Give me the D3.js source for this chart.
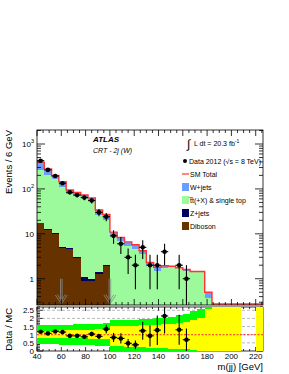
<!DOCTYPE html>
<html>
<head>
<meta charset="utf-8">
<script src="https://cdn.jsdelivr.net/npm/d3@7"></script>
<style>
  body { margin: 0; background: #fff; }
  text { font-family: "Liberation Sans", Arial, sans-serif; }
</style>
</head>
<body>
<div id="wrapper"></div>
<script>
// bins of 6 GeV, centres
const binCenters = [43, 49, 55, 61, 67, 73, 79, 85, 91, 97, 103, 109, 115, 121, 127, 133,
    139, 145, 151, 157, 163, 169, 175, 181, 187, 193, 199, 205, 211, 217, 223];

// stacked MC (events / bin)
const diboson = [17, 12, 9.8, 4.8, 4.6, 2.9, 0.87, 0.9, 1.3, 1.9, 0, 0, 0, 0, 0, 0,
    0, 0, 0, 0, 0, 0, 0, 0, 0, 0, 0, 0, 0, 0, 0];
const zjets = [0.8, 0.7, 0.6, 0.3, 0.25, 0.15, 0.22, 0.1, 0.1, 0.08, 0, 0, 0, 0, 0, 0,
    0, 0, 0, 0, 0, 0, 0, 0, 0, 0, 0, 0, 0, 0, 0];
const ttbar = [247, 191, 154, 107, 73, 67, 64, 56, 24.6, 18, 9.4, 7, 5.4, 4.5, 3.5, 2.0,
    1.45, 1.7, 1.8, 1.7, 1.52, 1.4, 1.4, 0.38, 0, 0, 0, 0, 0, 0, 0];
const wjets = [130, 76, 34, 33, 17, 13, 8, 6, 8, 7, 1.5, 1.3, 1.2, 1.2, 0.7, 0.3,
    0.35, 0.25, 0.1, 0.05, 0.08, 0.05, 0.05, 0.12, 0, 0, 0, 0, 0, 0, 0];

// data
const dataCounts = [425, 265, 194, 134, 84, 73, 64, 55, 30, 24, 9, 6, 3, 2, 5, 2,
    2, 4, 0, 2, 1, 0, 0, 0, 0, 0, 0, 0, 0, 0, 0];

// ratio panel
const ratioValues = [1.18, 1.08, 1.2, 1.16, 0.93, 0.93, 0.87, 1.04, 0.9, 1.34, 0.83, 0.77, 0.47, 0.38, 1.24, 0.93,
    1.28, 2.15, null, 1.3, 0.69, null, null, null, null, null, null, null, null, null, null];
const yellowLo = [0.8, 0.8, 0.8, 0.8, 0.8, 0.78, 0.78, 0.76, 0.74, 0.72, 0.3, 0.28, 0.26, 0.24, 0.22, 0.2,
    0.18, 0.16, 0.14, 0.12, 0.1, 0.05, 0.03, 0, 0, 0, 0, 0, null, null, 0];
const yellowHi = [1.25, 1.25, 1.25, 1.26, 1.27, 1.28, 1.29, 1.3, 1.32, 1.34, 1.52, 1.54, 1.55, 1.56, 1.58, 1.6,
    1.62, 1.64, 1.66, 1.7, 1.75, 1.9, 2.0, 2.56, 3, 3, 3, 3, null, null, 3];
const greenLo = [0.4, 0.4, 0.4, 0.38, 0.38, 0.36, 0.35, 0.34, 0.32, 0.3, 0, 0, 0, 0, 0, 0,
    0, 0, 0, 0, 0, 0, 0, 0, 0, 0, 0, 0, null, null, 0];
const greenHi = [1.6, 1.6, 1.6, 1.62, 1.62, 1.64, 1.65, 1.66, 1.68, 1.7, 1.9, 1.9, 1.92, 1.92, 1.95, 1.95,
    2.0, 2.05, 2.1, 2.2, 2.25, 2.45, 2.55, 3, 3, 3, 3, 3, null, null, 3];

const cutValues = [60, 100];
const xTickValues = [40, 60, 80, 100, 120, 140, 160, 180, 200, 220];
const yTickValues = [1, 10, 100, 1000];
const yTickExp = ["", "", "2", "3"];
const ratioTickValues = [0, 0.5, 1, 1.5, 2, 2.5];

const colors = {
    wjets: "#6b9cff",
    ttbar: "#9cf99c",
    zjets: "#00005e",
    diboson: "#663300",
    total: "#ff3333",
};

let dimensions = {
    width: 289,
    height: 374,
    left: 37,
    right: 263,
    mainTop: 130,
    mainBottom: 305,
    ratioTop: 307,
    ratioBottom: 351,
};

const svg = d3.select("#wrapper").append("svg")
    .attr("width", dimensions.width)
    .attr("height", dimensions.height);

const xScale = d3.scaleLinear().domain([40, 226]).range([dimensions.left, dimensions.right]);
const yMin = 0.26, yMax = 2050;
const yScale = d3.scaleLog().domain([yMin, yMax]).range([dimensions.mainBottom, dimensions.mainTop]);
const rScale = d3.scaleLinear().domain([0, 2.7]).range([dimensions.ratioBottom, dimensions.ratioTop]);
const clampY = v => Math.min(Math.max(v, yMin), yMax);
const clampR = v => Math.min(Math.max(v, 0), 2.7);

// clip paths
const defs = svg.append("defs");
defs.append("clipPath").attr("id", "clip-main").append("rect")
    .attr("x", dimensions.left).attr("y", dimensions.mainTop)
    .attr("width", dimensions.right - dimensions.left)
    .attr("height", dimensions.mainBottom - dimensions.mainTop);
defs.append("clipPath").attr("id", "clip-ratio").append("rect")
    .attr("x", dimensions.left).attr("y", dimensions.ratioTop)
    .attr("width", dimensions.right - dimensions.left)
    .attr("height", dimensions.ratioBottom - dimensions.ratioTop);

// ---------- main panel ----------
const table = binCenters.map((c, i) => ({
    c, diboson: diboson[i], zjets: zjets[i], ttbar: ttbar[i], wjets: wjets[i],
}));
const keys = ["diboson", "zjets", "ttbar", "wjets"];
const stacked = d3.stack().keys(keys)(table);

const main = svg.append("g").attr("clip-path", "url(#clip-main)");

stacked.forEach(layer => {
    main.append("g")
        .attr("fill", colors[layer.key])
        .attr("shape-rendering", "crispEdges")
        .selectAll("rect")
        .data(layer.filter(d => d[1] - d[0] > 0))
        .join("rect")
        .attr("x", d => xScale(d.data.c - 3))
        .attr("width", d => xScale(d.data.c + 3) - xScale(d.data.c - 3))
        .attr("y", d => yScale(clampY(d[1])))
        .attr("height", d => yScale(clampY(d[0])) - yScale(clampY(d[1])));
});

// SM total step line
const totals = table.map(d => d.diboson + d.zjets + d.ttbar + d.wjets);
const totalPoints = binCenters.map((c, i) => [c - 3, totals[i]]);
totalPoints.push([226, totals[totals.length - 1]]);
const stepLine = d3.line()
    .x(d => xScale(d[0]))
    .y(d => d[1] > yMin ? yScale(clampY(d[1])) : dimensions.mainBottom - 1)
    .curve(d3.curveStepAfter);
main.append("path")
    .datum(totalPoints)
    .attr("d", stepLine)
    .attr("fill", "none")
    .attr("stroke", colors.total)
    .attr("stroke-width", 1.4);

// cut arrows
cutValues.forEach(v => {
    const x = xScale(v);
    const yA = yScale(1.0), yB = dimensions.mainBottom - 1;
    const g = main.append("g").attr("fill", "none").attr("stroke", "#8a8a8a").attr("stroke-width", 0.8);
    g.append("path").attr("d", `M${x - 0.8},${yA} L${x - 0.8},${yB - 3} M${x + 0.8},${yA} L${x + 0.8},${yB - 3}`);
    g.append("path").attr("d", `M${x - 6},${yB - 9} L${x},${yB} L${x + 6},${yB - 9}`);
    g.append("path").attr("d", `M${x - 4},${yB - 9.5} L${x},${yB - 3.5} L${x + 4},${yB - 9.5}`);
});

// data points
const dataPts = binCenters.map((c, i) => ({ c, n: dataCounts[i] })).filter(d => d.n > 0);
const dataG = main.append("g");
dataG.selectAll("line.v")
    .data(dataPts)
    .join("line")
    .attr("x1", d => xScale(d.c)).attr("x2", d => xScale(d.c))
    .attr("y1", d => yScale(clampY(d.n + Math.sqrt(d.n))))
    .attr("y2", d => yScale(clampY(d.n - Math.sqrt(d.n))))
    .attr("stroke", "#000").attr("stroke-width", 1.1);
dataG.selectAll("line.h")
    .data(dataPts)
    .join("line")
    .attr("x1", d => xScale(d.c - 3)).attr("x2", d => xScale(d.c + 3))
    .attr("y1", d => yScale(d.n)).attr("y2", d => yScale(d.n))
    .attr("stroke", "#000").attr("stroke-width", 1.1);
dataG.selectAll("circle")
    .data(dataPts)
    .join("circle")
    .attr("cx", d => xScale(d.c)).attr("cy", d => yScale(d.n))
    .attr("r", 2.3).attr("fill", "#000");

// main frame + ticks
const axes = svg.append("g").attr("stroke", "#000").attr("stroke-width", 0.8);
axes.append("rect")
    .attr("x", dimensions.left).attr("y", dimensions.mainTop)
    .attr("width", dimensions.right - dimensions.left)
    .attr("height", dimensions.mainBottom - dimensions.mainTop)
    .attr("fill", "none");

function xTicks(yLine, dir, majLen, minLen) {
    for (let v = 40; v <= 226; v += 5) {
        const len = (v % 20 === 0) ? majLen : minLen;
        axes.append("line")
            .attr("x1", xScale(v)).attr("x2", xScale(v))
            .attr("y1", yLine).attr("y2", yLine + dir * len);
    }
}
xTicks(dimensions.mainTop, 1, 6, 3);
xTicks(dimensions.mainBottom, -1, 6, 3);

[0.1, 1, 10, 100, 1000].forEach(dec => {
    for (let k = 1; k <= 9; k++) {
        const v = dec * k;
        if (v < yMin || v > yMax) continue;
        const len = k === 1 ? 8 : 4;
        const y = yScale(v);
        axes.append("line").attr("x1", dimensions.left).attr("x2", dimensions.left + len).attr("y1", y).attr("y2", y);
        axes.append("line").attr("x1", dimensions.right).attr("x2", dimensions.right - len).attr("y1", y).attr("y2", y);
    }
});

const yLab = svg.append("g").attr("font-size", 8).attr("text-anchor", "end");
yTickValues.forEach((v, i) => {
    const t = yLab.append("text")
        .attr("x", dimensions.left - 3)
        .attr("y", yScale(v) + 3);
    if (yTickExp[i]) {
        t.append("tspan").text("10");
        t.append("tspan").attr("dy", -4).attr("font-size", 5.5).text(yTickExp[i]);
    } else {
        t.text(String(v));
    }
});

// ---------- ratio panel ----------
const ratio = svg.append("g").attr("clip-path", "url(#clip-ratio)");

// dashed grid
ratio.append("g")
    .selectAll("line")
    .data([0.5, 1, 1.5, 2, 2.5])
    .join("line")
    .attr("x1", dimensions.left).attr("x2", dimensions.right)
    .attr("y1", d => rScale(d)).attr("y2", d => rScale(d))
    .attr("stroke", "#999").attr("stroke-width", 0.7)
    .attr("stroke-dasharray", "3,2");

const bandRows = binCenters.map((c, i) => ({
    c, yl: yellowLo[i], yh: yellowHi[i], gl: greenLo[i], gh: greenHi[i],
})).filter(d => d.yl !== null);

ratio.append("g").attr("fill", "#00ff00").attr("shape-rendering", "crispEdges")
    .selectAll("rect").data(bandRows).join("rect")
    .attr("x", d => xScale(d.c - 3))
    .attr("width", d => xScale(d.c + 3) - xScale(d.c - 3))
    .attr("y", d => rScale(clampR(d.gh)))
    .attr("height", d => rScale(clampR(d.gl)) - rScale(clampR(d.gh)));
ratio.append("g").attr("fill", "#ffff00").attr("shape-rendering", "crispEdges")
    .selectAll("rect").data(bandRows).join("rect")
    .attr("x", d => xScale(d.c - 3))
    .attr("width", d => xScale(d.c + 3) - xScale(d.c - 3))
    .attr("y", d => rScale(clampR(d.yh)))
    .attr("height", d => rScale(clampR(d.yl)) - rScale(clampR(d.yh)));

// line at 1
ratio.append("line")
    .attr("x1", dimensions.left).attr("x2", dimensions.right)
    .attr("y1", rScale(1)).attr("y2", rScale(1))
    .attr("stroke", "#ff2a2a").attr("stroke-width", 1)
    .attr("stroke-dasharray", "2,1.5");

const ratioPts = binCenters.map((c, i) => ({ c, r: ratioValues[i], n: dataCounts[i] }))
    .filter(d => d.r !== null);
const rG = ratio.append("g");
rG.selectAll("line.v").data(ratioPts).join("line")
    .attr("x1", d => xScale(d.c)).attr("x2", d => xScale(d.c))
    .attr("y1", d => rScale(d.r + d.r / Math.sqrt(d.n)))
    .attr("y2", d => rScale(Math.max(d.r - d.r / Math.sqrt(d.n), -0.1)))
    .attr("stroke", "#000").attr("stroke-width", 1.1);
rG.selectAll("line.h").data(ratioPts).join("line")
    .attr("x1", d => xScale(d.c - 3)).attr("x2", d => xScale(d.c + 3))
    .attr("y1", d => rScale(d.r)).attr("y2", d => rScale(d.r))
    .attr("stroke", "#000").attr("stroke-width", 1.1);
rG.selectAll("circle").data(ratioPts).join("circle")
    .attr("cx", d => xScale(d.c)).attr("cy", d => rScale(d.r))
    .attr("r", 2.3).attr("fill", "#000");

axes.append("rect")
    .attr("x", dimensions.left).attr("y", dimensions.ratioTop)
    .attr("width", dimensions.right - dimensions.left)
    .attr("height", dimensions.ratioBottom - dimensions.ratioTop)
    .attr("fill", "none");
xTicks(dimensions.ratioTop, 1, 4, 2);
xTicks(dimensions.ratioBottom, -1, 4, 2);
for (let k = 0; k <= 27; k++) {
    const v = k / 10;
    const len = (k % 5 === 0) ? 6 : 3;
    const y = rScale(v);
    axes.append("line").attr("x1", dimensions.left).attr("x2", dimensions.left + len).attr("y1", y).attr("y2", y);
    axes.append("line").attr("x1", dimensions.right).attr("x2", dimensions.right - len).attr("y1", y).attr("y2", y);
}

const rLab = svg.append("g").attr("font-size", 8).attr("text-anchor", "end");
rLab.selectAll("text").data(ratioTickValues).join("text")
    .attr("x", dimensions.left - 3)
    .attr("y", d => rScale(d) + 3)
    .text(d => d);

const xLab = svg.append("g").attr("font-size", 8).attr("text-anchor", "middle");
xLab.selectAll("text").data(xTickValues).join("text")
    .attr("x", d => xScale(d))
    .attr("y", dimensions.ratioBottom + 7.5)
    .text(d => d);

// axis titles
svg.append("text")
    .attr("transform", `translate(12, ${dimensions.mainTop}) rotate(-90)`)
    .attr("text-anchor", "end")
    .attr("font-size", 9.5)
    .text("Events / 6 GeV");
svg.append("text")
    .attr("transform", `translate(12, ${dimensions.ratioTop + 1}) rotate(-90)`)
    .attr("text-anchor", "end")
    .attr("font-size", 9.5)
    .text("Data / MC");
svg.append("text")
    .attr("x", dimensions.right)
    .attr("y", 370)
    .attr("text-anchor", "end")
    .attr("font-size", 9.5)
    .text("m(jj) [GeV]");

// ATLAS label
svg.append("text")
    .attr("x", 93).attr("y", 142)
    .attr("font-size", 8).attr("font-weight", "bold").attr("font-style", "italic")
    .text("ATLAS");
svg.append("text")
    .attr("x", 93).attr("y", 153)
    .attr("font-size", 7).attr("font-style", "italic")
    .text("CRT - 2j (W)");

// legend
const legend = svg.append("g").attr("font-size", 7);
legend.append("text").attr("x", 187).attr("y", 148).attr("font-size", 12).text("\u222B");
const lumi = legend.append("text").attr("x", 194).attr("y", 146);
lumi.append("tspan").text("L dt = 20.3 fb");
lumi.append("tspan").attr("dy", -3).attr("font-size", 5).text("-1");

const legendStart = 161, legendStep = 13;
legend.append("circle").attr("cx", 185).attr("cy", legendStart).attr("r", 2).attr("fill", "#000");
legend.append("text").attr("x", 189).attr("y", legendStart + 2.5).text("Data 2012 (\u221As = 8 TeV)");
legend.append("line")
    .attr("x1", 182).attr("x2", 189)
    .attr("y1", legendStart + legendStep).attr("y2", legendStart + legendStep)
    .attr("stroke", colors.total).attr("stroke-width", 1.2);
legend.append("text").attr("x", 190).attr("y", legendStart + legendStep + 2.5).text("SM Total");

const legendItems = [
    { label: "W+jets", color: colors.wjets },
    { label: "t\u0305t(+X) & single top", color: colors.ttbar },
    { label: "Z+jets", color: colors.zjets },
    { label: "Diboson", color: colors.diboson },
];
legendItems.forEach((d, i) => {
    const y = legendStart + legendStep * (i + 2);
    legend.append("rect").attr("x", 182).attr("y", y - 4).attr("width", 7).attr("height", 8).attr("fill", d.color);
    legend.append("text").attr("x", 190).attr("y", y + 2.5).text(d.label);
});
</script>
</body>
</html>
